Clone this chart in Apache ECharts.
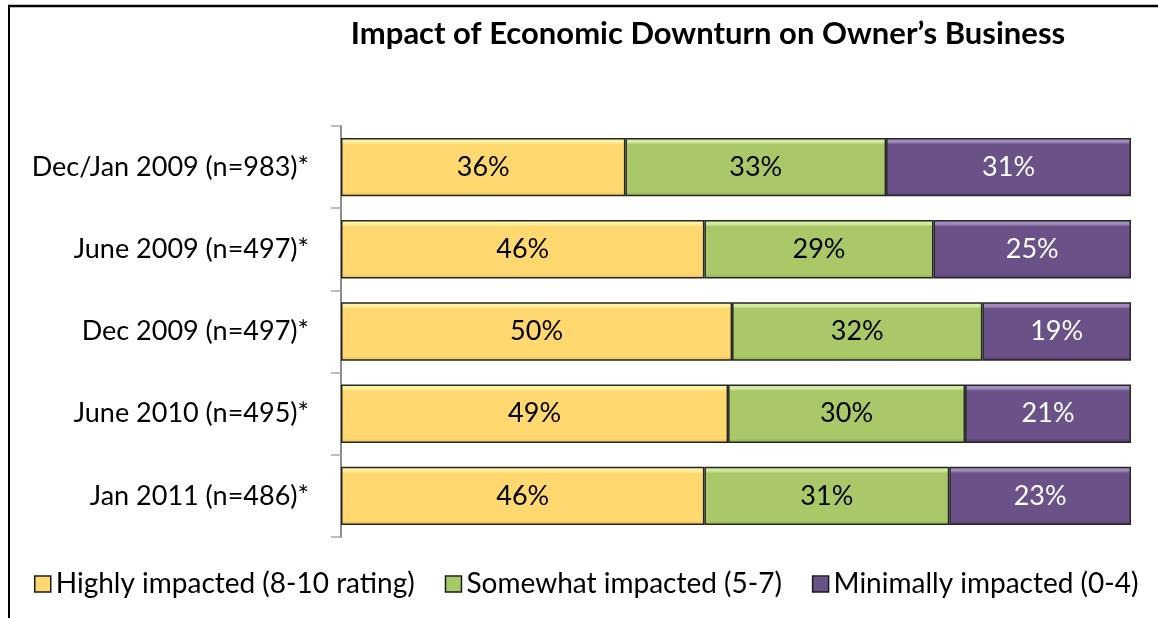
<!DOCTYPE html>
<html>
<head>
<meta charset="utf-8">
<title>Impact of Economic Downturn on Owner's Business</title>
<script src="https://cdn.jsdelivr.net/npm/echarts@6/dist/echarts.min.js"></script>
<style>
  html, body { margin: 0; padding: 0; background: #ffffff; }
  #chart { width: 1158px; height: 618px; }
</style>
</head>
<body>
<div id="chart"></div>
<script>
// Survey waves, top to bottom
const categories = [
  'Dec/Jan 2009 (n=983)*',
  'June 2009 (n=497)*',
  'Dec 2009 (n=497)*',
  'June 2010 (n=495)*',
  'Jan 2011 (n=486)*'
];
// Share of owners in each impact group (%)
const highlyImpacted = [36, 46, 50, 49, 46];
const somewhatImpacted = [33, 29, 32, 30, 31];
const minimallyImpacted = [31, 25, 19, 21, 23];
const seriesNames = [
  'Highly impacted (8-10 rating)',
  'Somewhat impacted (5-7)',
  'Minimally impacted (0-4)'
];

const FONT = 'Lato';
const BODY_SIZE = 27;

// 100% stacked: each row is scaled to its own total; labels keep the reported value
const totals = categories.map((_, i) => highlyImpacted[i] + somewhatImpacted[i] + minimallyImpacted[i]);
const asShare = arr => arr.map((v, i) => ({ value: v / totals[i] * 100, reported: v }));

// Bevelled fill: light strip on top, darker edge at the bottom
function bevel(top, base, bottom) {
  return new echarts.graphic.LinearGradient(0, 0, 0, 1, [
    { offset: 0, color: top },
    { offset: 0.07, color: top },
    { offset: 0.11, color: base },
    { offset: 0.92, color: base },
    { offset: 1, color: bottom }
  ]);
}

const palette = [
  { fill: bevel('#FFF2A2', '#FFD86F', '#E9BC55'), label: '#000000' },
  { fill: bevel('#D3EBA0', '#A9C868', '#8FAE4E'), label: '#000000' },
  { fill: bevel('#A08CBA', '#6A5288', '#523A6C'), label: '#ffffff' }
];

function makeSeries(name, values, idx) {
  return {
    name: name,
    type: 'bar',
    stack: 'total',
    barCategoryGap: '29%',
    data: asShare(values),
    itemStyle: {
      color: palette[idx].fill,
      borderColor: '#262626',
      borderWidth: 1.5
    },
    label: {
      show: true,
      position: 'inside',
      color: palette[idx].label,
      fontFamily: FONT,
      fontSize: BODY_SIZE,
      formatter: p => p.data.reported + '%'
    },
    emphasis: { disabled: true }
  };
}

const chart = echarts.init(document.getElementById('chart'), null, { renderer: 'canvas' });

chart.setOption({
  animation: false,
  backgroundColor: '#ffffff',
  title: {
    text: 'Impact of Economic Downturn on Owner\u2019s Business',
    left: 703,
    textAlign: 'center',
    top: 13,
    textStyle: { fontFamily: FONT, fontWeight: 'bold', fontSize: 31, color: '#000000' }
  },
  legend: {
    left: 34,
    top: 570,
    padding: 0,
    icon: 'rect',
    itemWidth: 16,
    itemHeight: 16,
    itemGap: 30,
    selectedMode: false,
    itemStyle: { borderColor: '#1a1a1a', borderWidth: 1.5 },
    textStyle: { fontFamily: FONT, fontSize: 28, color: '#000000' },
    data: seriesNames
  },
  grid: { left: 341, right: 27, top: 126, bottom: 81, containLabel: false },
  xAxis: {
    type: 'value',
    min: 0,
    max: 100,
    show: false
  },
  yAxis: {
    type: 'category',
    inverse: true,
    data: categories,
    axisLine: { show: true, lineStyle: { color: '#8c8c8c', width: 2 } },
    axisTick: { show: true, length: 10, lineStyle: { color: '#a6a6a6', width: 1.5 } },
    axisLabel: { margin: 32, fontFamily: FONT, fontSize: BODY_SIZE, color: '#000000' }
  },
  graphic: [
    { type: 'line', shape: { x1: 9, y1: 5, x2: 9, y2: 618 }, style: { stroke: '#000000', lineWidth: 2 }, silent: true },
    { type: 'line', shape: { x1: 8, y1: 6, x2: 1158, y2: 6 }, style: { stroke: '#000000', lineWidth: 2.5 }, silent: true }
  ],
  series: [
    makeSeries(seriesNames[0], highlyImpacted, 0),
    makeSeries(seriesNames[1], somewhatImpacted, 1),
    makeSeries(seriesNames[2], minimallyImpacted, 2)
  ]
});
</script>
</body>
</html>
